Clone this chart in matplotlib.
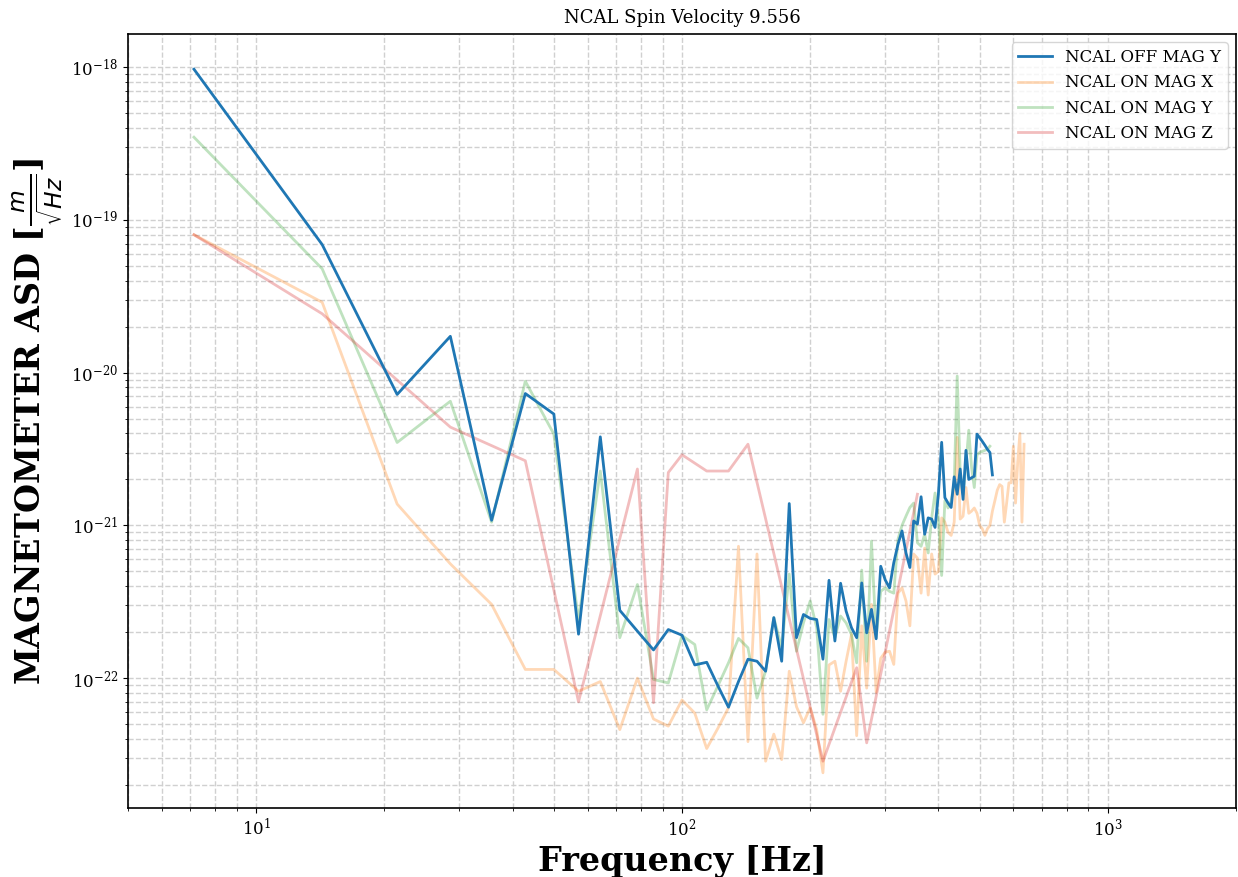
import numpy as np
import matplotlib
matplotlib.use("Agg")
import matplotlib.pyplot as plt

plt.rcParams['font.family'] = ['DejaVu Serif']
plt.rcParams['mathtext.fontset'] = 'dejavusans'

# frequency resolution of the harmonic bins (Hz)
df = 50.0 / 7.0

# NCAL OFF MAG Y (bins 1..75)
off_y_bins = list(range(1, 76))
off_y = [9.7e-19, 6.9e-20, 7.2e-21, 1.73e-20, 1.08e-21, 7.3e-21, 5.36e-21, 1.94e-22, 3.8e-21, 2.78e-22,
         2.03e-22, 1.53e-22, 2.08e-22, 1.91e-22, 1.22e-22, 1.27e-22, 8.9e-23, 6.45e-23, 9.5e-23, 1.33e-22,
         1.29e-22, 1.11e-22, 2.49e-22, 1.29e-22, 1.39e-21, 1.84e-22, 2.61e-22, 2.46e-22, 2.42e-22, 1.33e-22,
         4.37e-22, 1.75e-22, 4.18e-22, 2.75e-22, 2.14e-22, 1.84e-22, 4.2e-22, 1.98e-22, 2.82e-22, 1.81e-22,
         5.4e-22, 4.4e-22, 3.9e-22, 5.7e-22, 7.5e-22, 9.2e-22, 6.6e-22, 5.3e-22, 1.07e-21, 1.02e-21,
         1.54e-21, 8.75e-22, 1.12e-21, 1.1e-21, 9.7e-22, 1.6e-21, 3.5e-21, 1.52e-21, 1.4e-21, 1.31e-21,
         2.08e-21, 1.6e-21, 2.34e-21, 1.48e-21, 3.1e-21, 2.0e-21, 2.05e-21, 2.1e-21, 3.96e-21, 3.75e-21,
         3.55e-21, 3.35e-21, 3.15e-21, 3.0e-21, 2.14e-21]

# NCAL ON MAG X (bins 1..89)
on_x_bins = list(range(1, 90))
on_x = [8.0e-20, 2.89e-20, 1.38e-21, 5.6e-22, 3.04e-22, 1.14e-22, 1.14e-22, 8.2e-23, 9.5e-23, 4.6e-23,
        1.0e-22, 5.4e-23, 4.85e-23, 7.2e-23, 5.9e-23, 3.46e-23, 4.7e-23, 6.4e-23, 7.3e-22, 3.84e-23,
        6.5e-22, 2.86e-23, 4.3e-23, 2.93e-23, 1.11e-22, 6.5e-23, 5.1e-23, 6.4e-23, 4.6e-23, 2.4e-23,
        1.22e-22, 1.29e-22, 8.2e-23, 1.29e-22, 1.93e-22, 4.2e-23, 2.2e-22, 8.6e-23, 3.04e-22, 8.1e-23,
        1.35e-22, 1.48e-22, 1.5e-22, 1.23e-22, 3.6e-22, 3.9e-22, 3.2e-22, 2.2e-22, 6.5e-22, 6.1e-22,
        3.6e-22, 7.1e-22, 3.5e-22, 6.5e-22, 4.8e-22, 5.0e-22, 1.12e-21, 1.05e-21, 9.0e-22, 8.6e-22,
        1.05e-21, 3.77e-21, 1.1e-21, 1.15e-21, 1.77e-21, 1.2e-21, 1.24e-21, 1.3e-21, 1.2e-21, 1.0e-21,
        9.5e-22, 8.6e-22, 9.5e-22, 1.0e-21, 1.24e-21, 1.45e-21, 1.7e-21, 1.85e-21, 1.8e-21, 1.05e-21,
        1.4e-21, 1.9e-21, 1.9e-21, 3.3e-21, 1.4e-21, 2.6e-21, 4.0e-21, 1.05e-21, 3.4e-21]

# NCAL ON MAG Y (bins 1..74)
on_y_bins = list(range(1, 75))
on_y = [3.48e-19, 4.79e-20, 3.49e-21, 6.5e-21, 1.05e-21, 8.8e-21, 3.96e-21, 2.4e-22, 2.27e-21, 1.84e-22,
        4.1e-22, 9.8e-23, 9.3e-23, 1.9e-22, 1.66e-22, 6.2e-23, 8.9e-23, 1.26e-22, 1.82e-22, 1.58e-22,
        7.4e-23, 1.11e-22, 2.49e-22, 1.58e-22, 4.8e-22, 1.5e-22, 2.3e-22, 3.2e-22, 2.14e-22, 5.8e-23,
        2.42e-22, 1.84e-22, 2.55e-22, 2.3e-22, 1.93e-22, 1.26e-22, 5.1e-22, 1.29e-22, 7.9e-22, 1.84e-22,
        3.7e-22, 3.9e-22, 3.7e-22, 3.6e-22, 8.1e-22, 1.0e-21, 1.15e-21, 1.31e-21, 1.4e-21, 7.7e-22,
        7.3e-22, 8.75e-22, 6.6e-22, 1.12e-21, 1.63e-21, 1.1e-21, 4.7e-22, 1.45e-21, 1.3e-21, 1.45e-21,
        1.9e-21, 9.5e-21, 2.27e-21, 1.6e-21, 2.5e-21, 4.2e-21, 2.4e-21, 1.77e-21, 2.9e-21, 3.0e-21,
        3.05e-21, 3.1e-21, 3.15e-21, 3.3e-21]

# NCAL ON MAG Z (sparse bins)
on_z_bins = [1, 2, 4, 6, 8, 11, 12, 13, 14, 16, 18, 20, 30, 36, 38, 50]
on_z = [8.0e-20, 2.43e-20, 4.4e-21, 2.65e-21, 7.0e-23, 2.34e-21, 6.9e-23, 2.22e-21, 2.9e-21, 2.27e-21,
        2.27e-21, 3.4e-21, 2.86e-23, 1.17e-22, 3.77e-23, 1.6e-21]

labels = ["NCAL OFF MAG Y", "NCAL ON MAG X", "NCAL ON MAG Y", "NCAL ON MAG Z"]

fig = plt.figure(figsize=(12.38, 8.77), dpi=100)
ax = fig.add_axes([0.1034, 0.0787, 0.8950, 0.8825])

ax.plot(np.array(off_y_bins) * df, off_y, color='#1f77b4', lw=2.0, label=labels[0], zorder=3)
ax.plot(np.array(on_x_bins) * df, on_x, color='#ff7f0e', lw=2.0, alpha=0.3, label=labels[1])
ax.plot(np.array(on_y_bins) * df, on_y, color='#2ca02c', lw=2.0, alpha=0.3, label=labels[2])
ax.plot(np.array(on_z_bins) * df, on_z, color='#d62728', lw=2.0, alpha=0.3, label=labels[3])

ax.set_xscale('log')
ax.set_yscale('log')
ax.set_xlim(5, 2000)

ax.grid(True, which='both', ls='--', color='#d0d0d0', lw=1.0)
ax.set_axisbelow(True)

ax.set_title("NCAL Spin Velocity 9.556", fontsize=13, pad=8)
ax.set_xlabel("Frequency [Hz]", fontsize=24, fontweight='bold')
ax.set_ylabel(r"MAGNETOMETER ASD [$\frac{m}{\sqrt{Hz}}$]", fontsize=24, fontweight='bold')
ax.tick_params(axis='both', which='major', labelsize=12)

for s in ax.spines.values():
    s.set_linewidth(1.2)

ax.legend(loc='upper right', fontsize=12)

fig.savefig("out.png", dpi=100)
